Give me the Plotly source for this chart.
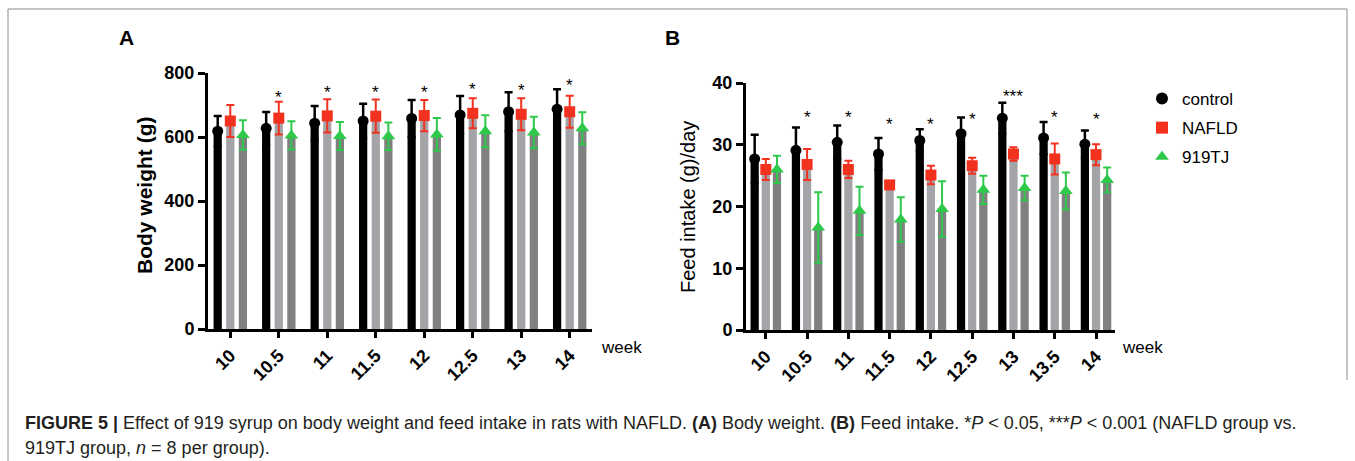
import plotly.graph_objects as go
import numpy as np

# ---------------- data ----------------
weeks_a = ["10", "10.5", "11", "11.5", "12", "12.5", "13", "14"]
bw_control = [618, 627, 643, 650, 658, 669, 679, 687]
bw_control_err = [48, 51, 54, 54, 58, 59, 61, 62]
bw_nafld = [650, 659, 666, 665, 667, 674, 671, 679]
bw_nafld_err = [50, 51, 52, 52, 49, 47, 50, 50]
bw_919 = [606, 605, 603, 602, 608, 618, 614, 627]
bw_919_err = [46, 44, 44, 43, 51, 50, 49, 50]
bw_sig = ["", "*", "*", "*", "*", "*", "*", "*"]
bw_sig_y = [None, 737, 750, 750, 750, 762, 759, 773]

weeks_b = ["10", "10.5", "11", "11.5", "12", "12.5", "13", "13.5", "14"]
fi_control = [27.7, 29.1, 30.4, 28.5, 30.7, 31.8, 34.3, 31.1, 30.1]
fi_control_err = [3.9, 3.7, 2.7, 2.6, 1.8, 2.6, 2.5, 2.6, 2.2]
fi_nafld = [26.0, 26.8, 26.0, 23.5, 25.1, 26.6, 28.5, 27.7, 28.4]
fi_nafld_err = [1.7, 2.5, 1.4, 0.3, 1.5, 1.3, 1.1, 2.5, 1.7]
fi_919 = [26.0, 16.6, 19.3, 17.9, 19.6, 22.7, 23.0, 22.5, 24.3]
fi_919_err = [2.2, 5.7, 3.9, 3.6, 4.5, 2.3, 2.0, 3.0, 2.0]
fi_sig = ["", "*", "*", "*", "*", "*", "***", "*", "*"]
fi_sig_y = [None, 35.0, 35.0, 34.0, 34.0, 34.8, 38.4, 35.0, 34.8]

groups = ["control", "NAFLD", "919TJ"]

# ---------------- style ----------------
W, H = 1355, 461
FONT = "Liberation Sans, Arial, Helvetica, sans-serif"
BAR_COLORS = ["#000000", "#a3a3a8", "#808080"]
MK_COLORS = ["#000000", "#f2321f", "#2ec84b"]
MK_SYMBOLS = ["circle", "square", "triangle-up"]
MK_SIZES = [11, 11, 12]


def px_x(p):
    return p / W


def px_y(p):
    return 1 - p / H


fig = go.Figure()


def add_panel(xa, ya, weeks, series, errs, offsets, width, show_legend):
    idx = np.arange(len(weeks))
    for k in range(3):
        fig.add_trace(go.Bar(
            x=idx + offsets[k], y=series[k], width=width,
            marker=dict(color=BAR_COLORS[k], line=dict(width=0)),
            xaxis=xa, yaxis=ya, showlegend=False, hoverinfo="skip"))
    for k in range(3):
        fig.add_trace(go.Scatter(
            x=idx + offsets[k], y=series[k], mode="markers",
            name=groups[k], legendgroup=groups[k],
            marker=dict(color=MK_COLORS[k], symbol=MK_SYMBOLS[k], size=MK_SIZES[k],
                        line=dict(width=0)),
            error_y=dict(type="data", array=errs[k], color=MK_COLORS[k],
                         thickness=2.5 if k == 0 else 2, width=4),
            xaxis=xa, yaxis=ya, showlegend=show_legend))


add_panel("x", "y", weeks_a, [bw_control, bw_nafld, bw_919],
          [bw_control_err, bw_nafld_err, bw_919_err], [-0.26, 0.0, 0.26], 0.17, False)
add_panel("x2", "y2", weeks_b, [fi_control, fi_nafld, fi_919],
          [fi_control_err, fi_nafld_err, fi_919_err], [-0.27, 0.0, 0.27], 0.2, True)

tickfont = dict(family=FONT, size=18, color="#000000", weight="bold")
axis_common = dict(showline=True, linewidth=3, linecolor="#000000", ticks="outside",
                   tickwidth=3, tickcolor="#000000", showgrid=False, zeroline=False,
                   tickfont=tickfont, automargin=False)

fig.update_layout(
    width=W, height=H,
    margin=dict(l=0, r=0, t=0, b=0, pad=0, autoexpand=False),
    paper_bgcolor="white", plot_bgcolor="rgba(0,0,0,0)",
    barmode="overlay",
    font=dict(family=FONT, color="#000000"),
    xaxis=dict(domain=[px_x(208), px_x(592)], range=[-0.46, len(weeks_a) - 1 + 0.46],
               tickmode="array", tickvals=list(range(len(weeks_a))), ticktext=weeks_a,
               tickangle=-45, ticklen=6, anchor="y", **axis_common),
    yaxis=dict(domain=[px_y(329), px_y(73)], range=[0, 800], tickvals=[0, 200, 400, 600, 800],
               ticklen=7, anchor="x", **axis_common),
    xaxis2=dict(domain=[px_x(746), px_x(1115)], range=[-0.48, len(weeks_b) - 1 + 0.46],
                tickmode="array", tickvals=list(range(len(weeks_b))), ticktext=weeks_b,
                tickangle=-45, ticklen=6, anchor="y2", **axis_common),
    yaxis2=dict(domain=[px_y(330), px_y(83)], range=[0, 40], tickvals=[0, 10, 20, 30, 40],
                ticklen=7, anchor="x2", **axis_common),
    legend=dict(x=px_x(1142), y=px_y(81), xanchor="left", yanchor="top",
                font=dict(family=FONT, size=17, color="#000000"),
                tracegroupgap=4, itemsizing="constant", bgcolor="rgba(0,0,0,0)"),
)

ann = []
# significance stars
for i, (s, yv) in enumerate(zip(bw_sig, bw_sig_y)):
    if s:
        ann.append(dict(x=i, y=yv, xref="x", yref="y", text=s, showarrow=False,
                        font=dict(family=FONT, size=17, color="#000000"), yshift=-4))
for i, (s, yv) in enumerate(zip(fi_sig, fi_sig_y)):
    if s:
        ann.append(dict(x=i, y=yv, xref="x2", yref="y2", text=s, showarrow=False,
                        font=dict(family=FONT, size=17, color="#000000"), yshift=-4))

C = dict(xanchor="center", yanchor="middle", showarrow=False, xref="paper", yref="paper")
L = dict(xanchor="left", yanchor="middle", showarrow=False, xref="paper", yref="paper")
# panel letters, axis titles and side labels
ann += [
    dict(x=px_x(127), y=px_y(38), text="<b>A</b>",
         font=dict(family=FONT, size=21, color="#000000"), **C),
    dict(x=px_x(672), y=px_y(38), text="<b>B</b>",
         font=dict(family=FONT, size=21, color="#000000"), **C),
    dict(x=px_x(144), y=px_y(196), text="<b>Body weight (g)</b>", textangle=-90,
         font=dict(family=FONT, size=21, color="#000000"), **C),
    dict(x=px_x(688), y=px_y(207), text="Feed intake (g)/day", textangle=-90,
         font=dict(family=FONT, size=20, color="#000000"), **C),
    dict(x=px_x(599), y=px_y(347), text="week",
         font=dict(family=FONT, size=17, color="#000000"), **L),
    dict(x=px_x(1120), y=px_y(347), text="week",
         font=dict(family=FONT, size=17, color="#000000"), **L),
    dict(x=px_x(23), y=px_y(423),
         text="<b>FIGURE 5 |</b> Effect of 919 syrup on body weight and feed intake in rats with NAFLD. "
              "<b>(A)</b> Body weight. <b>(B)</b> Feed intake. *<i>P</i> &lt; 0.05, ***<i>P</i> &lt; 0.001 "
              "(NAFLD group vs.",
         font=dict(family=FONT, size=18, color="#231f20"), **L),
    dict(x=px_x(23), y=px_y(448),
         text="919TJ group, <i>n</i> = 8 per group).",
         font=dict(family=FONT, size=18, color="#231f20"), **L),
]
fig.update_layout(annotations=ann)

# frame lines
fig.update_layout(shapes=[
    dict(type="line", xref="paper", yref="paper", x0=px_x(8), x1=px_x(1347), y0=px_y(9), y1=px_y(9),
         line=dict(color="#8c8c8c", width=1)),
    dict(type="line", xref="paper", yref="paper", x0=px_x(8), x1=px_x(8), y0=px_y(9), y1=0,
         line=dict(color="#8c8c8c", width=1)),
    dict(type="line", xref="paper", yref="paper", x0=px_x(1347), x1=px_x(1347), y0=px_y(9), y1=px_y(380),
         line=dict(color="#8c8c8c", width=1)),
])

fig.write_html("out.html")
